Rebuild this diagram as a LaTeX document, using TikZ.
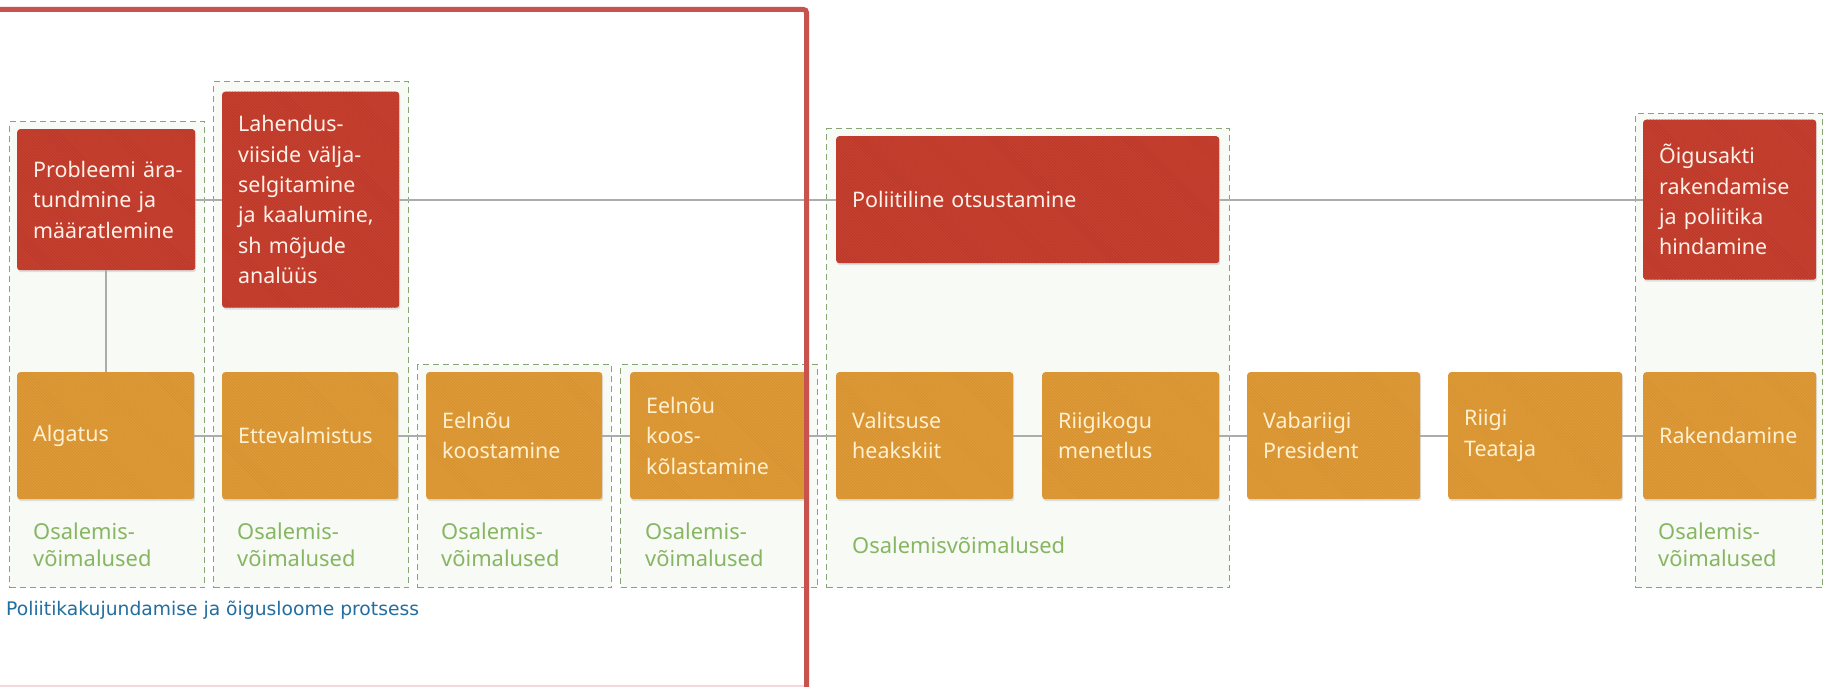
\documentclass[tikz,border=0pt]{standalone}
\usepackage{fontspec}
\setmainfont{Noto Sans}
\newfontfamily\capfont{DejaVu Sans}
\usetikzlibrary{patterns,shadows}
\definecolor{redbox}{RGB}{198,64,47}
\definecolor{redstripe}{RGB}{182,54,40}
\definecolor{orbox}{RGB}{222,154,54}
\definecolor{orstripe}{RGB}{210,142,48}
\definecolor{grpline}{RGB}{135,165,115}
\definecolor{grpfill}{RGB}{248,250,246}
\definecolor{conn}{RGB}{172,172,172}
\definecolor{osal}{RGB}{135,182,98}
\definecolor{capblue}{RGB}{35,110,160}
\definecolor{framered}{RGB}{200,82,78}
\definecolor{redtext}{RGB}{255,240,232}
\definecolor{ortext}{RGB}{255,240,208}
\begin{document}
\begin{tikzpicture}[x=1bp,y=-1bp,
  basebox/.style={rounded corners=3bp, inner xsep=16bp, inner ysep=0bp, align=left,
    anchor=north west, font=\fontsize{21.5}{30.5}\selectfont,
    execute at begin node={\hyphenpenalty=10000\exhyphenpenalty=10000\hfuzz=200bp\hbadness=10000},
    drop shadow={shadow xshift=1bp, shadow yshift=-2bp, opacity=0.22}},
  redbox/.style={basebox, fill=redbox, text=redtext,
    postaction={pattern=north west lines, pattern color=redstripe}},
  orbox/.style={basebox, fill=orbox, text=ortext, minimum height=127bp,
    postaction={pattern=north west lines, pattern color=orstripe}},
  grp/.style={draw=grpline, fill=grpfill, dash pattern=on 6bp off 4bp, line width=1.1bp,
    anchor=north west, inner sep=0bp},
  osaltext/.style={anchor=west, text=osal, align=left, font=\fontsize{22}{27}\selectfont, inner sep=0bp},
  connline/.style={draw=conn, line width=2bp}
]
\useasboundingbox (0,0) rectangle (1837,687);
\fill[white] (0,0) rectangle (1837,687);

% groups
\node[grp, minimum width=195bp, minimum height=466bp] (g1) at (9,121) {};
\node[grp, minimum width=195bp, minimum height=506bp] (g2) at (213,81) {};
\node[grp, minimum width=194bp, minimum height=223bp] (g3) at (417,364) {};
\node[grp, minimum width=197bp, minimum height=223bp] (g4) at (620,364) {};
\node[grp, minimum width=403bp, minimum height=459bp] (g5) at (826,128) {};
\node[grp, minimum width=187bp, minimum height=474bp] (g6) at (1635,113) {};

\coordinate (ytop) at (0,199.5);
\coordinate (ybot) at (0,435.5);

% red boxes (text width = box width - 32)
\node[redbox, text width=146bp, minimum height=141bp] (p1) at (17,129) {Probleemi~ära-\\tundmine~ja\\määratlemine};
\node[redbox, text width=145bp, minimum height=216bp] (p2) at (222,91.5) {Lahendus-\\viiside~välja-\\selgitamine\\ja~kaalumine,\\sh~mõjude\\analüüs};
\node[redbox, text width=351bp, minimum height=127bp] (p3) at (836,136) {Poliitiline~otsustamine};
\node[redbox, text width=141bp, minimum height=160bp] (p4) at (1643,119.5) {Õigusakti\\rakendamise\\ja~poliitika\\hindamine};

% orange boxes
\node[orbox, text width=145bp] (a1) at (17,372) {Algatus};
\node[orbox, text width=144bp] (a2) at (222,372) {Ettevalmistus};
\node[orbox, text width=144bp] (a3) at (426,372) {Eelnõu\\koostamine};
\node[orbox, text width=144bp] (a4) at (630,372) {Eelnõu\\koos-\\kõlastamine};
\node[orbox, text width=145bp] (a5) at (836,372) {Valitsuse\\heakskiit};
\node[orbox, text width=145bp] (a6) at (1042,372) {Riigikogu\\menetlus};
\node[orbox, text width=141bp] (a7) at (1247,372) {Vabariigi\\President};
\node[orbox, text width=142bp] (a8) at (1448,372) {Riigi\\Teataja};
\node[orbox, text width=141bp] (a9) at (1643,372) {Rakendamine};

% connectors
\draw[connline] (p1.east |- ytop) -- (p2.west |- ytop);
\draw[connline] (p2.east |- ytop) -- (p3.west |- ytop);
\draw[connline] (p3.east |- ytop) -- (p4.west |- ytop);
\draw[connline] (p1.south) -- (a1.north -| p1.south);
\foreach \s/\t in {a1/a2,a2/a3,a3/a4,a4/a5,a5/a6,a6/a7,a7/a8,a8/a9}
  \draw[connline] (\s.east |- ybot) -- (\t.west |- ybot);

% participation texts
\node[osaltext] (o1) at (33,545) {Osalemis-\\võimalused};
\node[osaltext] (o2) at (237,545) {Osalemis-\\võimalused};
\node[osaltext] (o3) at (441,545) {Osalemis-\\võimalused};
\node[osaltext] (o4) at (645,545) {Osalemis-\\võimalused};
\node[osaltext] (o5) at (852,545) {Osalemisvõimalused};
\node[osaltext] (o6) at (1658,545) {Osalemis-\\võimalused};

% caption
\node[anchor=west, inner sep=0bp, text=capblue, font=\capfont\fontsize{18.8}{22}\selectfont] (cap) at (6,610) {Poliitikakujundamise ja õigusloome protsess};

% highlight frame
\draw[draw={rgb,255:red,245;green,215;blue,220}, line width=1.5bp] (0,686) -- (806,686);
\draw[framered, line width=5bp, rounded corners=3bp] (0,9.5) -- (806.5,9.5) -- (806.5,690);
\end{tikzpicture}
\end{document}
